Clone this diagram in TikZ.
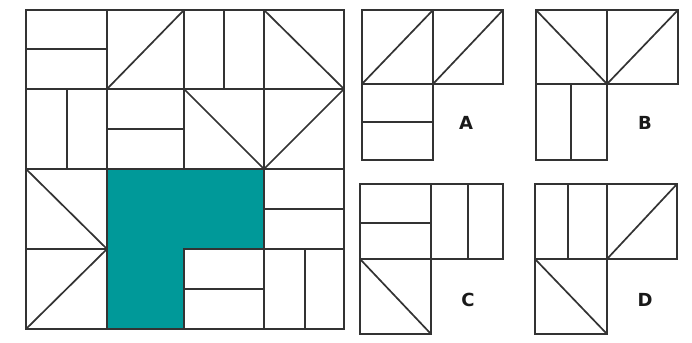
\documentclass[tikz,border=0pt]{standalone}
\usepackage{fontspec}
\setmainfont{DejaVu Sans}
\definecolor{tealfill}{RGB}{0,153,153}
\begin{document}
\begin{tikzpicture}[x=1pt, y=-1pt,
  ln/.style={line width=1.7pt,black!80},
  lab/.style={font=\fontsize{18}{18}\selectfont\bfseries,text=black!90,inner sep=0pt}]
\useasboundingbox (0,0) rectangle (692,342);
% big square grid
\draw[ln] (107,10)--(107,329); \draw[ln] (184,10)--(184,329); \draw[ln] (264,10)--(264,329);
\draw[ln] (26,89)--(344,89); \draw[ln] (26,169)--(344,169); \draw[ln] (26,249)--(344,249);
% first row
\draw[ln] (26,49)--(107,49); \draw[ln] (107,89)--(184,10); \draw[ln] (224,10)--(224,89); \draw[ln] (264,10)--(344,89);
% second row
\draw[ln] (67,89)--(67,169); \draw[ln] (107,129)--(184,129); \draw[ln] (184,89)--(264,169); \draw[ln] (264,169)--(344,89);
% third and fourth rows
\draw[ln] (26,169)--(107,249); \draw[ln] (26,329)--(107,249); \draw[ln] (264,209)--(344,209);
\draw[ln] (184,289)--(264,289); \draw[ln] (305,249)--(305,329);
% shaded L piece on top
\fill[tealfill] (107,169)--(264,169)--(264,249)--(184,249)--(184,329)--(107,329)--cycle;
\draw[ln] (107,169)--(264,169)--(264,249)--(184,249)--(184,329)--(107,329)--cycle;
\draw[ln] (26,10) rectangle (344,329);
% option A
\draw[ln] (362,10)--(503,10)--(503,84)--(433,84)--(433,160)--(362,160)--cycle;
\draw[ln] (362,84)--(433,84); \draw[ln] (433,10)--(433,84);
\draw[ln] (362,84)--(433,10); \draw[ln] (433,84)--(503,10); \draw[ln] (362,122)--(433,122);
\node[lab] (la) at (466,123) {A};
% option B
\draw[ln] (536,10)--(678,10)--(678,84)--(607,84)--(607,160)--(536,160)--cycle;
\draw[ln] (536,84)--(607,84); \draw[ln] (607,10)--(607,84);
\draw[ln] (536,10)--(607,84); \draw[ln] (607,84)--(678,10); \draw[ln] (571,84)--(571,160);
\node[lab] (lb) at (645,123) {B};
% option C
\draw[ln] (360,184)--(503,184)--(503,259)--(431,259)--(431,334)--(360,334)--cycle;
\draw[ln] (360,259)--(431,259); \draw[ln] (431,184)--(431,259);
\draw[ln] (360,223)--(431,223); \draw[ln] (468,184)--(468,259); \draw[ln] (360,259)--(431,334);
\node[lab] (lc) at (468,300) {C};
% option D
\draw[ln] (535,184)--(677,184)--(677,259)--(607,259)--(607,334)--(535,334)--cycle;
\draw[ln] (535,259)--(607,259); \draw[ln] (607,184)--(607,259);
\draw[ln] (568,184)--(568,259); \draw[ln] (607,259)--(677,184); \draw[ln] (535,259)--(607,334);
\node[lab] (ld) at (645,300) {D};
\end{tikzpicture}
\end{document}
